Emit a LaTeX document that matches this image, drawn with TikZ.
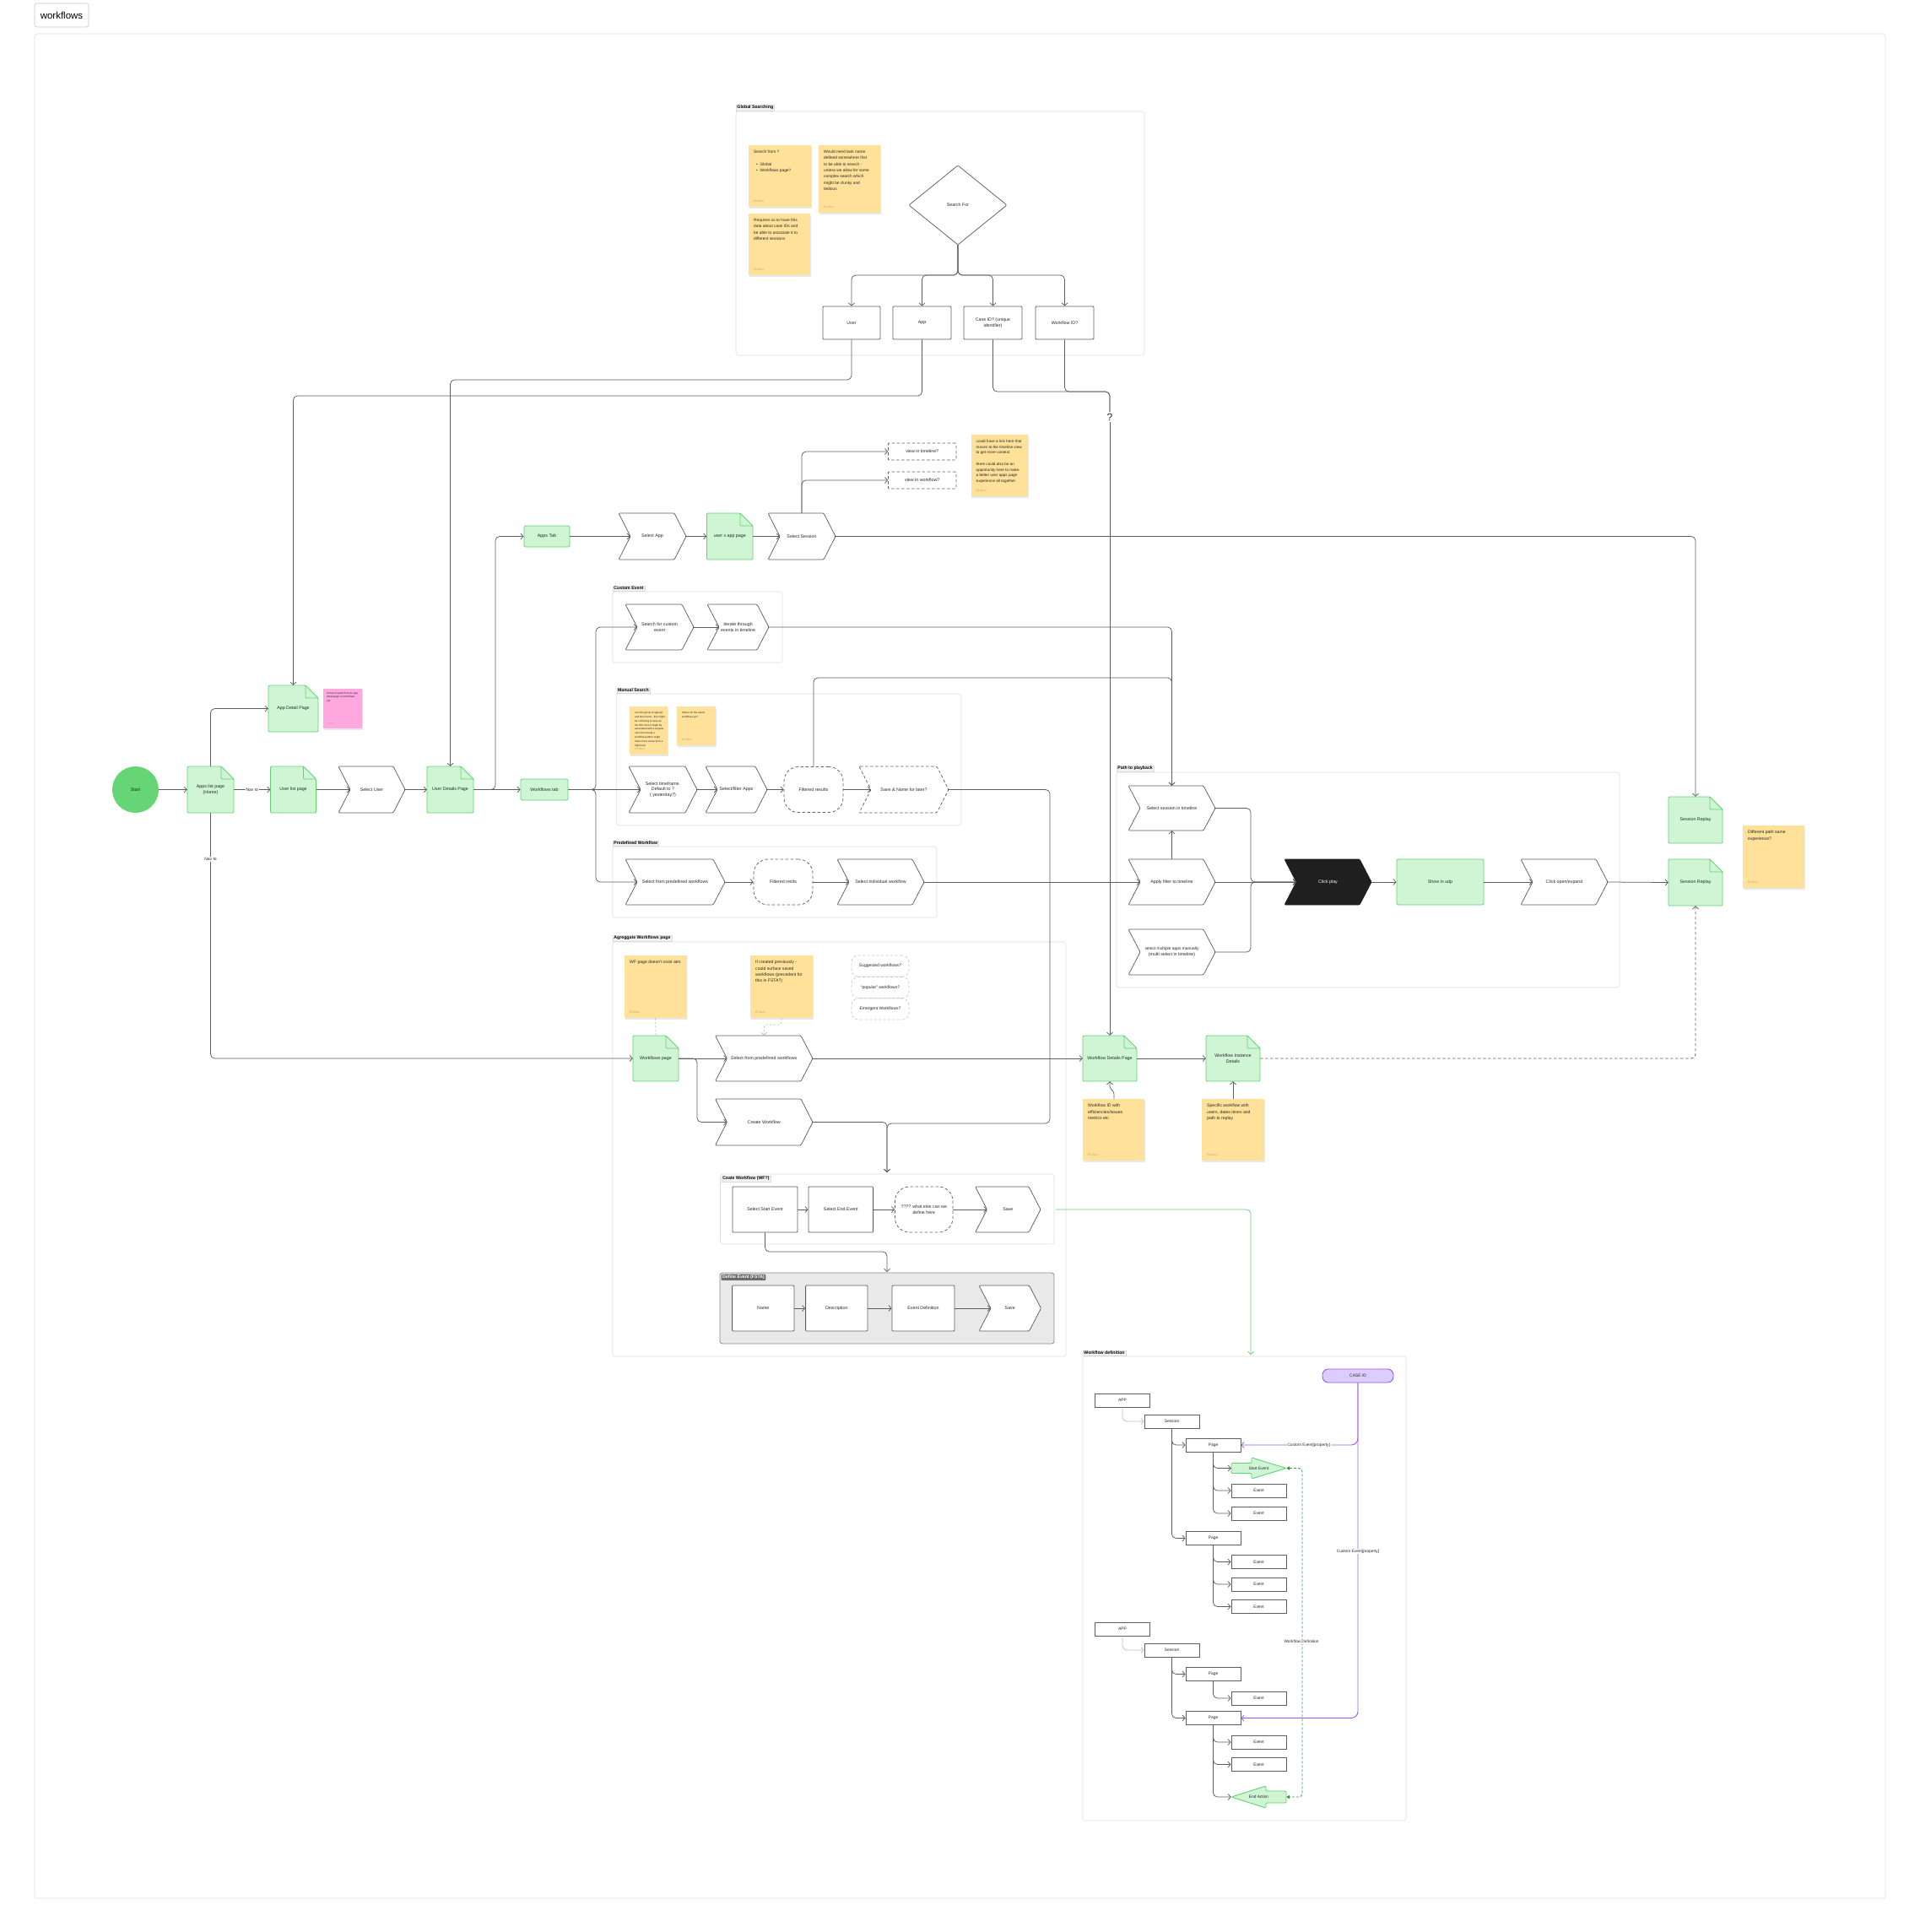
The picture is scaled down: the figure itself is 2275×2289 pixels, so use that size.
\documentclass[tikz,border=0pt]{standalone}
\usepackage{fontspec}
\setmainfont{Liberation Sans}
\usetikzlibrary{arrows.meta,calc}
\definecolor{lc}{HTML}{5E5E5E}
\definecolor{gfill}{HTML}{CFF5D5}
\definecolor{gline}{HTML}{62D372}
\definecolor{startc}{HTML}{66D575}
\definecolor{notey}{HTML}{FFE199}
\definecolor{pinkn}{HTML}{FFA8E0}
\definecolor{purpf}{HTML}{DCCDFF}
\definecolor{purpl}{HTML}{9A55F5}
\definecolor{framec}{HTML}{DEDEDE}
\definecolor{txtc}{HTML}{262626}
\definecolor{dgreen}{HTML}{2F9A3D}
\definecolor{lgray}{HTML}{BEBEBE}
\definecolor{authc}{HTML}{B9A36E}
\definecolor{defbg}{HTML}{E9E9E9}
\newcommand\fsz[2]{\fontsize{#1}{#2}\selectfont}
\tikzset{
  conn/.style={draw=lc,line width=0.75pt,rounded corners=5pt,-{Straight Barb[length=3.2pt,width=7pt,line width=0.75pt]}},
  plainln/.style={draw=lc,line width=0.75pt,rounded corners=5pt},
  lbl/.style={inner sep=0pt,align=center,font=\fsz{5.3}{6.6},text=txtc},
  chevsty/.style={draw=lc,line width=0.75pt,fill=white,rounded corners=1.2pt,line join=round},
  docsty/.style={draw=gline,line width=0.9pt,fill=gfill,rounded corners=1.2pt,line join=round},
  frame/.style={draw=framec,line width=0.6pt,rounded corners=3pt},
  flabel/.style={fill=black!5,draw=black!14,line width=0.3pt,inner xsep=1.3pt,inner ysep=1.1pt,font=\bfseries\fsz{5.2}{6},text=black,anchor=south west},
  boxsty/.style={draw=lc,line width=0.8pt,fill=white,rounded corners=1pt,inner sep=0pt,align=center,font=\fsz{5.3}{6.6},text=txtc},
  greenbox/.style={draw=gline,fill=gfill,line width=0.9pt,rounded corners=1.5pt,inner sep=0pt,align=center,font=\fsz{5.3}{6.6},text=txtc},
  dashsty/.style={dash pattern=on 3.5pt off 2.5pt},
  dround/.style={draw=lc,line width=0.75pt,dash pattern=on 3.5pt off 2.5pt,rounded corners=17pt,fill=white,inner sep=0pt,align=center,font=\fsz{5.3}{6.6},text=txtc},
  lround/.style={draw=black!22,line width=0.7pt,dash pattern=on 3pt off 2.5pt,rounded corners=8pt,fill=white,inner sep=0pt,align=center,font=\fsz{5}{6},text=txtc,minimum width=68,minimum height=25},
  notebox/.style={fill=notey,inner sep=0pt},
  notetxt/.style={inner sep=0pt,align=left,font=\fsz{5.1}{7.3},text=txtc},
  noteauth/.style={inner sep=0pt,font=\fsz{3.3}{4},text=authc},
  treebox/.style={draw=lc,line width=0.8pt,fill=white,inner sep=0pt,align=center,font=\fsz{4.9}{6},text=txtc,minimum width=65,minimum height=16},
  onlbl/.style={fill=white,inner sep=1pt,font=\fsz{4.8}{5.6},text=txtc},
}
% chevron: [path opts]{name}{x1}{y1}{x2}{y2}{text}
\newcommand\chevN[7][]{%
  \draw[chevsty,#1] (#3,#4) -- ({#5-14},#4) -- (#5,{(#4+#6)/2}) -- ({#5-14},#6) -- (#3,#6) -- ({#3+14},{(#4+#6)/2}) -- cycle;
  \node[lbl,minimum width={#5-#3},minimum height={#6-#4}] (#2) at ({(#3+#5)/2},{(#4+#6)/2}) {#7};}
% document page: {name}{x1}{y1}{x2}{y2}{text}
\newcommand\docN[6]{%
  \draw[docsty] (#2,#3) -- ({#4-15},#3) -- (#4,{#3+15}) -- (#4,#5) -- (#2,#5) -- cycle;
  \draw[docsty,fill=none] ({#4-15},#3) -- ({#4-15},{#3+15}) -- (#4,{#3+15});
  \node[lbl,minimum width={#4-#2},minimum height={#5-#3}] (#1) at ({(#2+#4)/2},{(#3+#5)/2}) {#6};}
% sticky note: [text opts]{name}{x1}{y1}{x2}{y2}{text}
\newcommand\noteN[7][]{%
  \fill[black!9] ({#3+0.8},{#4+1.6}) rectangle ({#5+0.8},{#6+1.6});
  \node[notebox,minimum width={#5-#3},minimum height={#6-#4}] (#2) at ({(#3+#5)/2},{(#4+#6)/2}) {};
  \node[notetxt,#1,anchor=north west] (#2t) at ({#3+6},{#4+6}) {#7};
  \node[noteauth,anchor=south west] at ({#3+6},{#6-5}) {Eli Muro};}
\begin{document}
\begin{tikzpicture}[x=1pt,y=-1pt]
\path[use as bounding box,fill=white] (0,0) rectangle (2275,2289);

% ---------- frames ----------
\draw[draw=black!12,line width=0.6pt,rounded corners=3pt] (41,40) rectangle (2234,2249);
\node[draw=black!22,line width=0.6pt,rounded corners=2.5pt,fill=white,minimum width=64,minimum height=28,inner sep=0pt,font=\fsz{11.5}{13}] (title) at (73,18) {workflows};

\draw[frame] (872,132) rectangle (1356,421);
\node[flabel] at (872,131) {Global Searching};
\draw[frame] (726,701) rectangle (927,785);
\node[flabel] at (726,700) {Custom Event};
\draw[frame] (730.6,822) rectangle (1139,978);
\node[flabel] at (730.6,821) {Manual Search};
\draw[frame] (726,1003) rectangle (1110,1087);
\node[flabel] at (726,1002) {Predefined Workflow};
\draw[frame] (1323,915) rectangle (1919,1170);
\node[flabel] at (1323,914) {Path to playback};
\draw[frame] (726,1116) rectangle (1263,1607);
\node[flabel] at (726,1115) {Agreggate Workflows page};
\draw[frame] (853.5,1391) rectangle (1249,1474);
\node[flabel,anchor=north west] at (855,1392.5) {Ceate Workflow (WF?)};
\draw[draw=black!45,fill=defbg,line width=0.8pt,rounded corners=3pt] (853,1508) rectangle (1249,1592);
\node[anchor=north west,fill=black!58,rounded corners=1pt,inner xsep=1.5pt,inner ysep=1.2pt,text=white,font=\bfseries\fsz{5.2}{6}] (defl) at (854.5,1509.5) {Define Event (FSTA)};
\draw[frame] (1283,1607) rectangle (1666,2157);
\node[flabel] at (1283,1606) {Workflow definition};

% ---------- Global searching ----------
\noteN[font=\fsz{4.8}{7.3}]{gsn1}{887}{172}{961}{245}{Search from ?\\[7.3pt]\hspace*{3pt}• \ Global\\\hspace*{3pt}• \ Workflows page?}
\noteN[font=\fsz{4.8}{7.3}]{gsn2}{970}{172}{1043}{252}{Would need task name\\defined somewhere first\\to be able to search -\\unless we allow for some\\complex search which\\might be clunky and\\tedious}
\noteN[font=\fsz{4.8}{7.3}]{gsn3}{887}{253}{960}{326}{Requires us to have this\\data about case IDs and\\be able to associate it to\\different sessions}
\draw[chevsty] (1135,196) -- (1193,243) -- (1135,290) -- (1077,243) -- cycle;
\node[lbl,minimum width=60,minimum height=94] (search) at (1135,243) {Search For};
\node[boxsty,minimum width=68,minimum height=39] (user) at (1009,382.5) {User};
\node[boxsty,minimum width=69,minimum height=39] (app) at (1092.5,382.5) {App};
\node[boxsty,minimum width=69,minimum height=39] (case) at (1176.5,382.5) {Case ID? (unique\\identifier)};
\node[boxsty,minimum width=69,minimum height=39] (wfid) at (1261.5,382.5) {Workflow ID?};
\node[fill=white,inner sep=1.5pt,font=\fsz{12}{13},text=txtc] (q) at (1315,494) {?};

% ---------- main row ----------
\node[circle,fill=startc,minimum size=55pt,inner sep=0pt,font=\fsz{5.3}{6.6},text=txtc] (start) at (160.5,935.5) {Start};
\docN{alp}{222}{908}{277}{963}{Apps list page\\(Home)}
\docN{ulp}{320.5}{908}{374.5}{963}{User list page}
\chevN{seluser}{401}{908}{480}{963}{Select User}
\docN{udp}{506}{908}{561}{963}{User Details Page}
\node[greenbox,minimum width=56,minimum height=25] (wtab) at (645,935.5) {Workflows tab};
\docN{adp}{318}{812}{377}{867}{App Detail Page}
\fill[black!9] (383.8,817.6) rectangle (429.8,864.6);
\node[fill=pinkn,inner sep=0pt,minimum width=46,minimum height=47] (pink) at (406,839.5) {};
\node[notetxt,font=\fsz{3.1}{4.4},anchor=north west] (pinkt) at (387,820) {moves to path from an app\\detail page to workflows\\yet};
\node[noteauth,font=\fsz{2.6}{3},anchor=south west] at (387,859) {Eli Muro};

% ---------- apps row ----------
\node[greenbox,minimum width=54,minimum height=25] (appstab) at (648,635.5) {Apps Tab};
\chevN{selapp}{733}{608}{813}{663}{Select App}
\docN{uxapp}{837.5}{608}{892}{663}{user x app page}
\chevN{selsess}{910}{608}{990}{663}{Select Session}
\node[boxsty,dashsty,minimum width=80.5,minimum height=20] (vtl) at (1092.75,535) {view in timeline?};
\node[boxsty,dashsty,minimum width=80.5,minimum height=20] (vwf) at (1092.75,569) {view in workflow?};
\noteN[font=\fsz{4.6}{6.7}]{sessn}{1150.5}{515}{1218}{588}{could have a link here that\\moves to the timeline view\\to get more context.\\[6.7pt]there could also be an\\opportunity here to make\\a better user apps page\\experience all together}

% ---------- custom event ----------
\chevN{searchce}{741}{716}{822}{770}{Search for custom\\event}
\chevN{iterate}{838}{716}{911}{770}{Iterate through\\events in timeline}

% ---------- manual search ----------
\noteN[font=\fsz{3.0}{4.9}]{msn1}{746}{837}{791}{894}{Just the group of apps(s)\\and time frame - this might\\be confusing to save as\\the WF since it might be\\associated with a singular\\user and saving a\\workflow pattern might\\make more sense from a\\high level}
\noteN[font=\fsz{3.0}{4.9}]{msn2}{802}{837}{848}{883}{Where do the saved\\workflows go?}
\chevN{seltime}{745}{908}{826}{963}{Select timeframe.\\Default to ?\\( yesterday?)}
\chevN{selfilt}{836}{908}{909}{963}{Select/filter Apps}
\node[dround,minimum width=70,minimum height=54] (fr1) at (964,935.5) {Filtered results};
\chevN[dashsty]{savename}{1018}{908}{1124}{963}{Save \& Name for later?}

% ---------- predefined workflow ----------
\chevN{selpre}{741}{1018}{859}{1072}{Select from predefined workflows}
\node[dround,minimum width=70,minimum height=54] (fr2) at (928,1045) {Filtered reslts};
\chevN{selind}{992}{1018}{1095}{1072}{Select individual workflow}

% ---------- path to playback ----------
\chevN{ssit}{1337}{931}{1440}{984}{Select session in timeline}
\chevN{applyf}{1337}{1018}{1440}{1072}{Apply filter to timeline}
\chevN{selmulti}{1337}{1101}{1440}{1155}{\fsz{4.9}{6.4}select multiple apps  manually\\(multi select in timeline)}
\chevN[fill=black!88,draw=black!88]{clickplay}{1522}{1018}{1625}{1072}{\color{white}Click play}
\node[greenbox,minimum width=103,minimum height=54] (showudp) at (1706.5,1045) {Show in udp};
\chevN{clickopen}{1802}{1018}{1905}{1072}{Click open/expand}
\docN{sr1}{1977}{944}{2041}{999}{Session Replay}
\docN{sr2}{1977}{1018}{2041}{1073}{Session Replay}
\noteN{diffn}{2065}{978}{2138}{1052}{Different path same\\experience?}

% ---------- aggregate workflows page ----------
\noteN{aggn1}{740}{1132}{813.5}{1206}{WF page doesn't exist atm}
\noteN{aggn2}{889}{1132}{963}{1206}{If created previously -\\could surface saved\\workflows (precedent for\\this in FSTA?)}
\node[lround] (sug) at (1043,1144.5) {Suggested workflows?};
\node[lround] (pop) at (1043,1170) {``popular'' workflows?};
\node[lround] (emer) at (1043,1195.5) {Emergent Workflows?};
\docN{wfpage}{750}{1227}{804}{1281}{Workflows page}
\chevN{selpre2}{847.5}{1227}{963}{1281}{Select from predefined workflows}
\chevN{createwf}{847.5}{1302}{963}{1357}{Create Workflow}

% create workflow (WF?)
\node[boxsty,minimum width=77,minimum height=54] (sse) at (906.5,1433) {Select Start Event};
\node[boxsty,minimum width=76.6,minimum height=54] (see) at (996.3,1433) {Select End Event};
\node[dround,minimum width=68.5,minimum height=54] (what) at (1094.75,1433) {???? what else can we\\define here};
\chevN{save1}{1155.6}{1406}{1233}{1460}{Save}

% define event (FSTA)
\node[boxsty,minimum width=73.4,minimum height=54] (nm) at (904.3,1550) {Name};
\node[boxsty,minimum width=73.4,minimum height=54] (desc) at (991.3,1550) {Description};
\node[boxsty,minimum width=74,minimum height=54] (evdef) at (1094,1550) {Event Definition};
\chevN{save2}{1160}{1523}{1233.5}{1577}{Save}

% ---------- workflow details ----------
\docN{wdp}{1283}{1227}{1347}{1281}{Workflow Details Page}
\docN{wid}{1429}{1227}{1493}{1281}{Workflow Instance\\Details}
\noteN{wdpn}{1283}{1302}{1356}{1375}{Workflow ID with\\efficiencies/issues\\metrics etc}
\noteN{widn}{1424}{1302}{1498}{1375}{Specific workflow with\\users, dates times and\\path to replay}

% ---------- workflow definition ----------
\node[draw=purpl,fill=purpf,line width=0.9pt,rounded corners=7pt,minimum width=84,minimum height=16,inner sep=0pt,font=\fsz{4.9}{6},text=txtc] (caseid) at (1609,1630) {CASE ID};
\node[treebox] (app1) at (1330,1659) {APP};
\node[treebox] (sess1) at (1388.5,1684) {Session};
\node[treebox] (page1) at (1437.5,1712) {Page};
\filldraw[docsty] (1459,1733.5) -- (1483,1733.5) -- (1483,1727) -- (1524,1739.5) -- (1483,1752) -- (1483,1745.5) -- (1459,1745.5) -- cycle;
\node[lbl,font=\fsz{4.8}{5.6},minimum width=65,minimum height=25] (startev) at (1491.5,1739.5) {Start Event};
\node[treebox] (ev1) at (1491.5,1766) {Event};
\node[treebox] (ev2) at (1491.5,1793) {Event};
\node[treebox] (page2) at (1437.5,1822.5) {Page};
\node[treebox] (ev3) at (1491.5,1850.5) {Event};
\node[treebox] (ev4) at (1491.5,1877) {Event};
\node[treebox] (ev5) at (1491.5,1903.5) {Event};
\node[treebox] (app2) at (1330,1930) {APP};
\node[treebox] (sess2) at (1388.5,1955) {Session};
\node[treebox] (page3) at (1437.5,1983.5) {Page};
\node[treebox] (ev6) at (1491.5,2012) {Event};
\node[treebox] (page4) at (1437.5,2035.5) {Page};
\node[treebox] (ev7) at (1491.5,2064) {Event};
\node[treebox] (ev8) at (1491.5,2090.5) {Event};
\filldraw[docsty] (1459,2129) -- (1500,2116) -- (1500,2122) -- (1524,2122) -- (1524,2136) -- (1500,2136) -- (1500,2142) -- cycle;
\node[lbl,font=\fsz{4.8}{5.6},minimum width=65,minimum height=26] (endact) at (1491.5,2129) {End Action};

% ---------- connectors ----------
% global searching
\draw[conn] (search.south) -- (1135,326) -| (user.north);
\draw[conn] (search.south) -- (1135,326) -| (app.north);
\draw[conn] (search.south) -- (1135,326) -| (case.north);
\draw[conn] (search.south) -- (1135,326) -| (wfid.north);
\draw[conn] (user.south) -- (1009,450) -| (udp.north);
\draw[conn] (app.south) -- (1092.5,469) -| (adp.north);
\draw[plainln] (case.south) -- (1176.5,464) -| (q.north);
\draw[plainln] (wfid.south) -- (1261.5,464) -| (q.north);
\draw[conn] (q.south) -- (wdp.north);

% main row
\draw[conn] (start.east) -- (alp.west);
\draw[conn] (alp.east) -- node[onlbl,font=\fsz{5}{6}]{Nav to} (ulp.west);
\draw[conn] (ulp.east) -- ([xshift=14pt]seluser.west);
\draw[conn] (seluser.east) -- (udp.west);
\draw[conn] (udp.east) -- (wtab.west);
\draw[conn] (udp.east) -- (587,935.5) |- (appstab.west);
\draw[conn] (alp.north) |- (adp.west);
\draw[conn] (alp.south) |- (wfpage.west);
\node[onlbl,font=\fsz{5}{6}] (navto2) at (249.5,1018) {Nav to};
\draw[conn] (wtab.east) -- ([xshift=14pt]seltime.west);
\draw[conn] (wtab.east) -- (706,935.5) |- ([xshift=14pt]searchce.west);
\draw[conn] (wtab.east) -- (706,935.5) |- ([xshift=14pt]selpre.west);

% apps row
\draw[conn] (appstab.east) -- ([xshift=14pt]selapp.west);
\draw[conn] (selapp.east) -- (uxapp.west);
\draw[conn] (uxapp.east) -- ([xshift=14pt]selsess.west);
\draw[conn] (selsess.north) |- (vwf.west);
\draw[conn] (selsess.north) |- (vtl.west);
\draw[conn] (selsess.east) -| (sr1.north);

% custom event
\draw[conn] (searchce.east) -- ([xshift=14pt]iterate.west);
\draw[conn] (iterate.east) -| (ssit.north);

% manual search
\draw[conn] (seltime.east) -- ([xshift=14pt]selfilt.west);
\draw[conn] (selfilt.east) -- (fr1.west);
\draw[conn] (fr1.east) -- ([xshift=14pt]savename.west);
\draw[conn] (fr1.north) -- (964,803) -| (ssit.north);
\coordinate (wfin) at (1051,1389);
\draw[conn] (savename.east) -- (1244,935.5) |- (1051,1331) -- (wfin);

% predefined
\draw[conn] (selpre.east) -- (fr2.west);
\draw[conn] (fr2.east) -- ([xshift=14pt]selind.west);
\draw[conn] (selind.east) -- ([xshift=14pt]applyf.west);

% path to playback
\draw[conn] (applyf.north) -- (ssit.south);
\draw[conn] (ssit.east) -| (1482,1045) -- ([xshift=14pt]clickplay.west);
\draw[conn] (selmulti.east) -| (1482,1045) -- ([xshift=14pt]clickplay.west);
\draw[conn] (applyf.east) -- ([xshift=14pt]clickplay.west);
\draw[conn] (clickplay.east) -- (showudp.west);
\draw[conn] (showudp.east) -- ([xshift=14pt]clickopen.west);
\draw[conn] (clickopen.east) -- (sr2.west);

% aggregate
\draw[plainln,draw=black!25,dash pattern=on 2.5pt off 2pt] (aggn1.south) -- (wfpage.north);
\draw[conn,draw=black!25,dash pattern=on 2.5pt off 2pt,rounded corners=3pt] (aggn2.south) -- (926,1214) -| (selpre2.north);
\draw[conn] (wfpage.east) -- ([xshift=14pt]selpre2.west);
\draw[conn] (wfpage.east) -- (826,1254) |- ([xshift=14pt]createwf.west);
\draw[conn] (selpre2.east) -- (wdp.west);
\draw[conn] (createwf.east) -| (wfin);
\draw[conn] (sse.east) -- (see.west);
\draw[conn] (see.east) -- (what.west);
\draw[conn] (what.east) -- ([xshift=14pt]save1.west);
\coordinate (defin) at (1051,1507);
\draw[conn] (sse.south) -- (906.5,1483) -| (defin);
\draw[conn] (nm.east) -- (desc.west);
\draw[conn] (desc.east) -- (evdef.west);
\draw[conn] (evdef.east) -- ([xshift=14pt]save2.west);
\coordinate (wfdefin) at (1482,1605);
\draw[conn,draw=gline] ([xshift=18pt]save1.east) -| (wfdefin);

% details
\draw[conn] (wdp.east) -- (wid.west);
\draw[conn,rounded corners=2pt] (wdpn.north -| 1320,0) -- (1320,1294) -- (1315,1289) -- (wdp.south);
\draw[conn] (widn.north -| wid.south) -- (wid.south);
\draw[conn,dashsty] (wid.east) -| (sr2.south);

% workflow definition tree
\draw[conn,draw=lgray] (app1.south) |- (sess1.west);
\draw[conn] (sess1.south) |- (page1.west);
\draw[conn] (sess1.south) |- (page2.west);
\draw[conn] (page1.south) |- (startev.west);
\draw[conn] (page1.south) |- (ev1.west);
\draw[conn] (page1.south) |- (ev2.west);
\draw[conn] (page2.south) |- (ev3.west);
\draw[conn] (page2.south) |- (ev4.west);
\draw[conn] (page2.south) |- (ev5.west);
\draw[conn,draw=lgray] (app2.south) |- (sess2.west);
\draw[conn] (sess2.south) |- (page3.west);
\draw[conn] (sess2.south) |- (page4.west);
\draw[conn] (page3.south) |- (ev6.west);
\draw[conn] (page4.south) |- (ev7.west);
\draw[conn] (page4.south) |- (ev8.west);
\draw[conn] (page4.south) |- (endact.west);
\draw[conn,draw=purpl,line width=0.9pt,rounded corners=8pt] (caseid.south) |- (page4.east);
\draw[conn,draw=purpl,line width=0.9pt,rounded corners=8pt] (caseid.south) |- (page1.east);
\node[onlbl] (cep1) at (1550.7,1712) {Custom Event[property]};
\node[onlbl] (cep2) at (1609,1838) {Custom Event[property]};
\draw[draw=dgreen,line width=0.8pt,dash pattern=on 3pt off 2pt,rounded corners=4pt,{Triangle[length=4pt,width=4.5pt]}-{Triangle[length=4pt,width=4.5pt]}] (startev.east) -- (1543,1739.5) -- (1543,2129) -- (endact.east);
\node[onlbl] (wfdl) at (1542,1945) {Workflow Definition};
\end{tikzpicture}
\end{document}
